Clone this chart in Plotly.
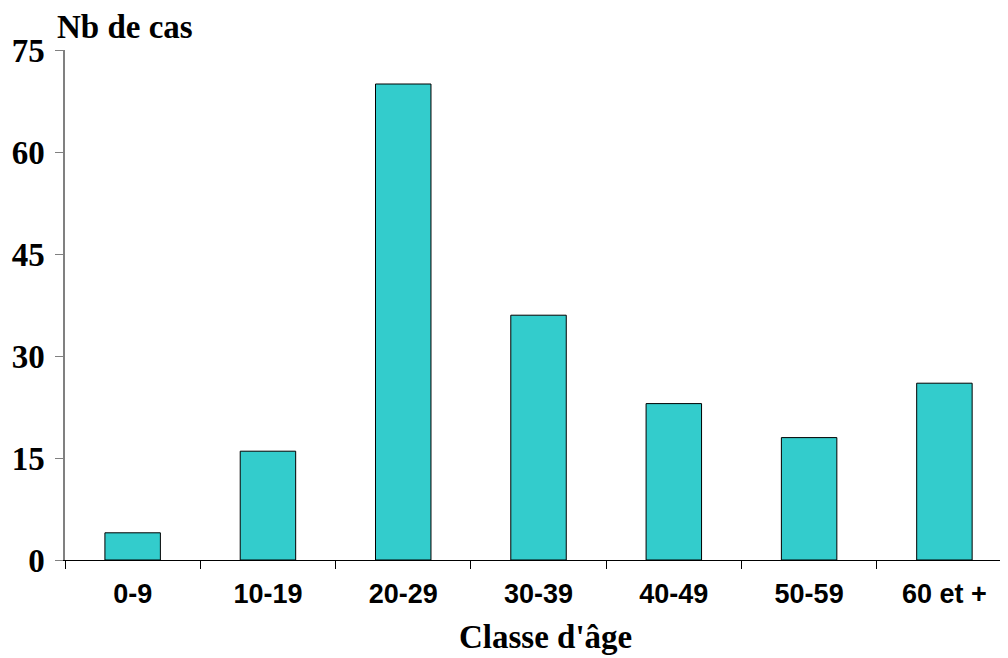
import plotly.graph_objects as go

categories = ["0-9", "10-19", "20-29", "30-39", "40-49", "50-59", "60 et +"]
cases = [4, 16, 70, 36, 23, 18, 26]
y_ticks = [0, 15, 30, 45, 60, 75]

# page has an 8px body margin; figure is sized to fill the 1008x658 window
W, H = 1000, 650
L, R, T, B = 57, 0, 42, 98

fig = go.Figure(go.Bar(
    x=categories, y=cases, width=0.41,
    marker=dict(color="#33CCCC", line=dict(color="black", width=1)),
))

pw = W - L - R
ph = H - T - B

fig.update_layout(
    width=W, height=H,
    margin=dict(l=L, r=R, t=T, b=B, autoexpand=False),
    plot_bgcolor="white", paper_bgcolor="white",
    showlegend=False,
    xaxis=dict(
        range=[-0.5, 6.47], tickson="boundaries", ticks="outside", ticklen=8,
        tickcolor="black", showline=True, linecolor="black", linewidth=1,
        showgrid=False, ticklabelstandoff=10,
        tickfont=dict(family="Liberation Sans, Arial", size=27, color="black", weight="bold"),
    ),
    yaxis=dict(
        range=[0, 75], tickvals=y_ticks, ticks="outside", ticklen=8,
        tickcolor="#808080", showline=True, linecolor="#808080", linewidth=1.5,
        showgrid=False, zeroline=False, ticklabelstandoff=4,
        tickfont=dict(family="Liberation Serif, Times New Roman", size=33, color="black", weight="bold"),
    ),
    annotations=[
        dict(text="<b>Nb de cas</b>", xref="paper", yref="paper",
             x=(47 - L) / pw, y=1 + 23 / ph, xanchor="left", yanchor="middle", showarrow=False,
             font=dict(family="Liberation Serif, Times New Roman", size=33, color="black")),
        dict(text="<b>Classe d'âge</b>", xref="paper", yref="paper",
             x=(537 - L) / pw, y=-(629 - (H - B)) / ph,
             xanchor="center", yanchor="middle", showarrow=False,
             font=dict(family="Liberation Serif, Times New Roman", size=33, color="black")),
    ],
)

fig.write_html("out.html")
